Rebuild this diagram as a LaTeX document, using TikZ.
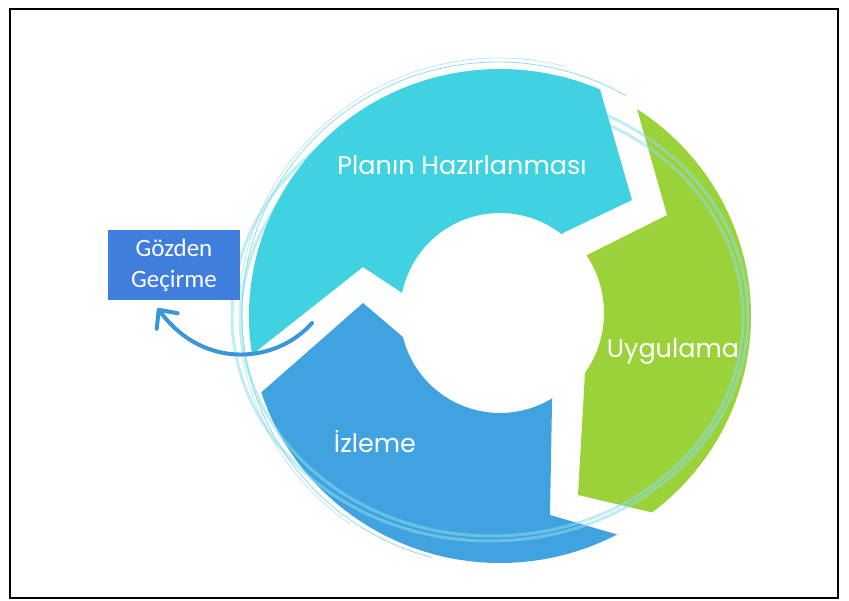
\documentclass[tikz,border=0pt]{standalone}
\usepackage{fontspec}
\usepackage{tikz}
\usetikzlibrary{arrows.meta}
\newfontfamily\ringfont{Poppins}
\newfontfamily\boxfont{Carlito}
\definecolor{planc}{RGB}{64,210,225}
\definecolor{izlc}{RGB}{64,163,224}
\definecolor{uygc}{RGB}{155,210,58}
\definecolor{gozc}{RGB}{63,126,221}
\definecolor{arrc}{RGB}{58,150,216}
\definecolor{stripec}{RGB}{140,220,235}

\begin{document}
\begin{tikzpicture}[x=1pt,y=-1pt,
  seglabel/.style={text=white,font=\ringfont\fontsize{25.5}{30}\selectfont,inner sep=0pt},
  stripe/.style={draw=stripec,line width=3pt,opacity=.55}]
\useasboundingbox (0,0) rectangle (849,601);
\draw[line width=1.2pt] (10,9) rectangle (838,598);
%
\def\ringx{500}\def\ringy{316}\def\ringa{251}\def\ringb{247}
\def\holex{500}\def\holey{313}\def\holer{100}
% Uygulama
\fill[uygc] ({\ringx+\ringa*cos(-56.9)},{\ringy+\ringb*sin(-56.9)})
  arc[start angle=-56.9,end angle=52.7,x radius=\ringa,y radius=\ringb]
  -- (578,495) -- ({\holex+104*cos(35.2)},{\holey+104*sin(35.2)})
  arc[start angle=35.2,end angle=-33.7,radius=104] -- (667,215) -- cycle;
% Izleme
\fill[izlc] ({\ringx+\ringa*cos(162)},{\ringy+\ringb*sin(162)}) -- (363,303)
  -- ({\holex+\holer*cos(166.1)},{\holey+\holer*sin(166.1)})
  arc[start angle=166.1,end angle=58.6,radius=\holer] -- (550,515)
  -- ({\ringx+\ringa*cos(62.2)},{\ringy+\ringb*sin(62.2)})
  arc[start angle=62.2,end angle=162,x radius=\ringa,y radius=\ringb] -- cycle;
% light rings
\draw[stripe] (490,316) ellipse [x radius=258,y radius=225];
\draw[stripe] (492,318) ellipse [x radius=251,y radius=218];
% Planin Hazirlanmasi
\fill[planc] ({\ringx+\ringa*cos(171)},{\ringy+\ringb*sin(171)})
  arc[start angle=171,end angle=293.5,x radius=\ringa,y radius=\ringb]
  -- (632,200) -- (563,233)
  -- ({\holex+\holer*cos(308.2)},{\holey+\holer*sin(308.2)})
  arc[start angle=308.2,end angle=191.6,radius=\holer] -- (363,267) -- cycle;
\draw[stripec,line width=.8pt] ({498+256*cos(105)},{314+252*sin(105)})
  arc[start angle=105,end angle=300,x radius=256,y radius=252];
\draw[stripec,line width=.8pt,opacity=.6] ({499+260*cos(125)},{314+256*sin(125)})
  arc[start angle=125,end angle=285,x radius=260,y radius=256];
%
\node[seglabel,anchor=base] (plan) at (462,175) {Planın Hazırlanması};
\node[seglabel,anchor=base] (uyg) at (673,358) {Uygulama};
\node[seglabel,anchor=base] (izl) at (375,453) {İzleme};
\node[fill=gozc,text=white,minimum width=132pt,minimum height=70pt,inner sep=0pt,
  align=center,font=\boxfont\fontsize{25}{31}\selectfont] (gozden) at (174,265)
  {Gözden\\Geçirme};
%
\coordinate (arrstart) at (312,323);
\draw[arrc,line width=4pt,line cap=round,-{Straight Barb[length=14pt,width=26pt,round]}]
  (arrstart) .. controls (278,362) and (205,372) .. ([yshift=-8pt]gozden.245);
\end{tikzpicture}
\end{document}
